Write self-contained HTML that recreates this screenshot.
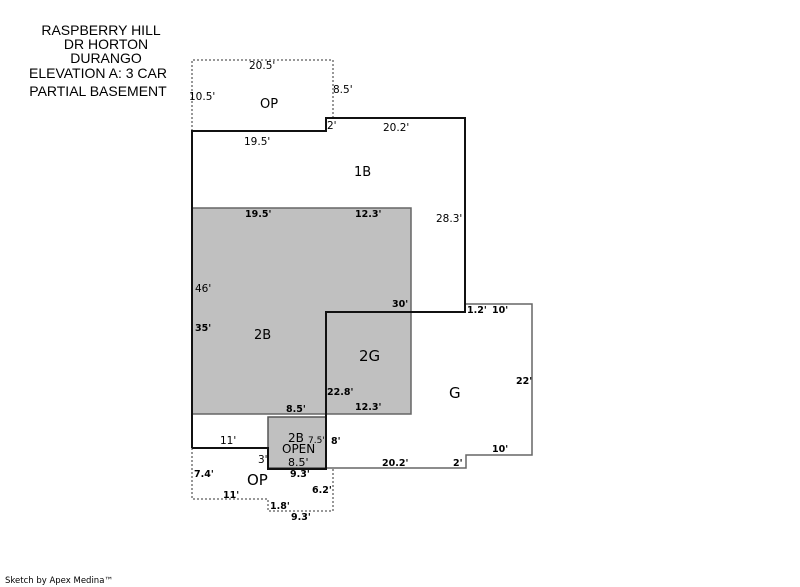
<!DOCTYPE html>
<html><head><meta charset="utf-8"><style>
html,body{margin:0;padding:0;background:#fff;}
svg{display:block;}
text{font-family:"DejaVu Sans","Liberation Sans",sans-serif;fill:#000;}
.r{font-size:10.5px;}
.b{font-size:9.5px;font-weight:bold;}
.t{font-size:14px;font-family:"Liberation Sans",sans-serif;}
.L{font-size:13px;}
</style></head><body>
<svg width="800" height="587" viewBox="0 0 800 587" xmlns="http://www.w3.org/2000/svg">
<rect width="800" height="587" fill="#fff"/>
<g text-anchor="middle">
<text class="t" x="101" y="35">RASPBERRY HILL</text>
<text class="t" x="106" y="49">DR HORTON</text>
<text class="t" x="106" y="63">DURANGO</text>
<text class="t" x="98" y="78">ELEVATION A: 3 CAR</text>
<text class="t" x="98" y="96">PARTIAL BASEMENT</text>
</g>
<rect x="192" y="208" width="219" height="206" fill="#c0c0c0" stroke="#666" stroke-width="1.5"/>
<rect x="268" y="417" width="58" height="51" fill="#c0c0c0" stroke="#555" stroke-width="1.5"/>
<polyline points="192,131 192,60 333,60 333,118" fill="none" stroke="#777" stroke-width="1.5" stroke-dasharray="2,2"/>
<polyline points="192,448 192,499 268,499 268,511 333,511 333,468" fill="none" stroke="#777" stroke-width="1.5" stroke-dasharray="2,2"/>
<polyline points="465,304 532,304 532,455 466,455 466,468 326,468" fill="none" stroke="#666" stroke-width="1.5"/>
<polyline points="192,448 192,131 326,131 326,118 465,118 465,312 326,312 326,469 268,469 268,448 192,448" fill="none" stroke="#111" stroke-width="2"/>
<text class="r" x="249" y="69">20.5'</text>
<text class="r" x="189" y="100">10.5'</text>
<text class="r" x="333" y="93">8.5'</text>
<text class="L" x="260" y="108">OP</text>
<text class="r" x="327" y="129">2'</text>
<text class="r" x="383" y="131">20.2'</text>
<text class="r" x="244" y="145">19.5'</text>
<text class="L" x="354" y="176">1B</text>
<text class="r" x="436" y="222">28.3'</text>
<text class="r" x="195" y="292">46'</text>
<text class="L" x="254" y="339">2B</text>
<text class="L" x="359" y="361" style="font-size:15px">2G</text>
<text class="L" x="449" y="398" style="font-size:15px">G</text>
<text class="r" x="220" y="444">11'</text>
<text class="r" x="288" y="442" style="font-size:12px">2B</text>
<text class="r" x="308" y="443" style="font-size:9px">7.5'</text>
<text class="r" x="282" y="453" style="font-size:12px">OPEN</text>
<text class="r" x="288" y="466" style="font-size:11px">8.5'</text>
<text class="r" x="258" y="463">3'</text>
<text class="L" x="247" y="485" style="font-size:15px">OP</text>
<text class="b" x="245" y="217">19.5'</text>
<text class="b" x="355" y="217">12.3'</text>
<text class="b" x="392" y="307">30'</text>
<text class="b" x="467" y="313">1.2'</text>
<text class="b" x="492" y="313">10'</text>
<text class="b" x="195" y="331">35'</text>
<text class="b" x="516" y="384">22'</text>
<text class="b" x="327" y="395">22.8'</text>
<text class="b" x="286" y="412">8.5'</text>
<text class="b" x="355" y="410">12.3'</text>
<text class="b" x="331" y="444">8'</text>
<text class="b" x="492" y="452">10'</text>
<text class="b" x="382" y="466">20.2'</text>
<text class="b" x="453" y="466">2'</text>
<text class="b" x="194" y="477">7.4'</text>
<text class="b" x="290" y="477">9.3'</text>
<text class="b" x="312" y="493">6.2'</text>
<text class="b" x="223" y="498">11'</text>
<text class="b" x="270" y="509">1.8'</text>
<text class="b" x="291" y="520">9.3'</text>
<text x="5" y="583" style="font-size:8.5px">Sketch by Apex Medina™</text>
</svg>
</body></html>
